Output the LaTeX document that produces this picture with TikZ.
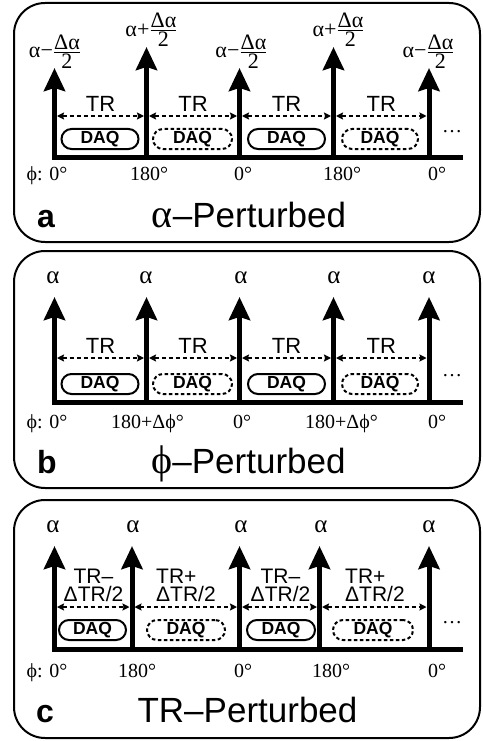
\documentclass[tikz,border=0pt]{standalone}
\usepackage{amsmath}
\usepackage{fontspec}
\setmainfont{Liberation Serif}
\newfontfamily\sansf{Liberation Sans}
\usetikzlibrary{arrows.meta}
\newcommand\myfr[2]{$\genfrac{}{}{0.8pt}{1}{\hbox{#1}}{\hbox{#2}}$}
\newcommand\tsym[1]{{\rmfamily\fontsize{40}{40}\selectfont #1}}
\tikzset{
  frame/.style={line width=2pt, rounded corners=31pt},
  axisline/.style={line width=5pt},
  pulse/.style={line width=5pt, -{Stealth[length=23pt,width=21pt,inset=3pt]}},
  trline/.style={line width=1.6pt, dash pattern=on 4pt off 3pt,
    {Stealth[length=7pt,width=7pt,inset=1pt]}-{Stealth[length=7pt,width=7pt,inset=1pt]}},
  daq/.style={draw, line width=2pt, rounded corners=10pt, minimum height=20pt,
    inner sep=0pt, font=\sansf\bfseries\fontsize{17.5}{17.5}\selectfont},
  daqd/.style={daq, dash pattern=on 3.5pt off 2.5pt},
  flip/.style={font=\fontsize{22}{24}\selectfont, inner sep=0pt},
  alab/.style={font=\fontsize{25}{27}\selectfont, anchor=base, inner sep=0pt},
  serif/.style={font=\fontsize{20}{22}\selectfont, anchor=base, inner sep=0pt},
  sanslbl/.style={font=\sansf\fontsize{22}{23}\selectfont, anchor=base, inner sep=0pt},
  twoline/.style={font=\sansf\fontsize{21}{17.5}\selectfont, inner sep=0pt},
  title/.style={font=\sansf\fontsize{35}{38}\selectfont, anchor=base, inner sep=0pt},
  letter/.style={font=\sansf\bfseries\fontsize{32}{34}\selectfont, anchor=base west, inner sep=0pt},
  dots/.style={font=\fontsize{20}{22}\selectfont, anchor=base, inner sep=0pt},
}
\begin{document}
\begin{tikzpicture}[x=1pt,y=-1pt]
\useasboundingbox (0,0) rectangle (482,741);
% ================= panel a =================
\draw[frame] (14,3) rectangle (480,242);
\coordinate (aL) at (52,157.5);
\coordinate (aR) at (463,157.5);
\draw[axisline] (aL) -- (aR);
\foreach \i/\x/\t in {1/54.5/68, 2/146.5/47, 3/239.5/68, 4/333.5/47, 5/429/68}{
  \coordinate (ab\i) at (\x,157.5);
  \coordinate (at\i) at (\x,\t);
  \draw[pulse] (ab\i) -- (at\i);
}
\node[flip] (fa1) at (55,51.5) {α−\myfr{Δα}{2}};
\node[flip] (fa2) at (151.5,30) {α+\myfr{Δα}{2}};
\node[flip] (fa3) at (241.5,51.5) {α−\myfr{Δα}{2}};
\node[flip] (fa4) at (338.5,30) {α+\myfr{Δα}{2}};
\node[flip] (fa5) at (428.5,51.5) {α−\myfr{Δα}{2}};
\foreach \xa/\xb/\n in {54.5/146.5/1, 146.5/239.5/2, 239.5/333.5/3, 333.5/429/4}{
  \coordinate (atrl\n) at (\xa+2.5,116);
  \coordinate (atrr\n) at (\xb-2.5,116);
  \draw[trline] (atrl\n) -- (atrr\n);
  \node[sanslbl] (atr\n) at ({(\xa+\xb)/2},112) {TR};
}
\node[daq, minimum width=77pt] (aq1) at (100,139) {DAQ};
\node[daqd, minimum width=79pt] (aq2) at (192.5,139) {DAQ};
\node[daq, minimum width=77pt] (aq3) at (286.5,139) {DAQ};
\node[daqd, minimum width=76pt] (aq4) at (380,139) {DAQ};
\node[dots] (adots) at (452,132) {…};
\node[serif] (ap1) at (47,180) {ϕ: 0°};
\node[serif] (ap2) at (149,180) {180°};
\node[serif] (ap3) at (243,180) {0°};
\node[serif] (ap4) at (342,180) {180°};
\node[serif] (ap5) at (437,180) {0°};
\node[letter] (alet) at (37,227) {a};
\node[title] (atitle) at (249,227) {\tsym{α}–Perturbed};
% ================= panel b =================
\draw[frame] (14,251) rectangle (480,488);
\coordinate (bL) at (52,402);
\coordinate (bR) at (463,402);
\draw[axisline] (bL) -- (bR);
\foreach \i/\x in {1/54.5, 2/146.5, 3/239.5, 4/333.5, 5/429}{
  \coordinate (bb\i) at (\x,402);
  \coordinate (bt\i) at (\x,297);
  \draw[pulse] (bb\i) -- (bt\i);
}
\foreach \i/\x in {1/53, 2/146, 3/241, 4/334, 5/429}{
  \node[alab] (ba\i) at (\x,283) {α};
}
\foreach \xa/\xb/\n in {54.5/146.5/1, 146.5/239.5/2, 239.5/333.5/3, 333.5/429/4}{
  \coordinate (btrl\n) at (\xa+2.5,358);
  \coordinate (btrr\n) at (\xb-2.5,358);
  \draw[trline] (btrl\n) -- (btrr\n);
  \node[sanslbl] (btr\n) at ({(\xa+\xb)/2},353) {TR};
}
\node[daq, minimum width=77pt] (bq1) at (100,384) {DAQ};
\node[daqd, minimum width=79pt] (bq2) at (192.5,384) {DAQ};
\node[daq, minimum width=77pt] (bq3) at (286.5,384) {DAQ};
\node[daqd, minimum width=76pt] (bq4) at (380,384) {DAQ};
\node[dots] (bdots) at (452,376) {…};
\node[serif] (bp1) at (47,428) {ϕ: 0°};
\node[serif] (bp2) at (147.5,428) {180+Δϕ°};
\node[serif] (bp3) at (242,428) {0°};
\node[serif] (bp4) at (341.5,428) {180+Δϕ°};
\node[serif] (bp5) at (437,428) {0°};
\node[letter] (blet) at (37,473) {b};
\node[title] (btitle) at (248.5,473) {\tsym{ϕ}–Perturbed};
% ================= panel c =================
\draw[frame] (14,500) rectangle (480,738);
\coordinate (cL) at (52,649.5);
\coordinate (cR) at (463,649.5);
\draw[axisline] (cL) -- (cR);
\foreach \i/\x in {1/54.5, 2/132, 3/239.5, 4/319.5, 5/429}{
  \coordinate (cb\i) at (\x,649.5);
  \coordinate (ct\i) at (\x,546);
  \draw[pulse] (cb\i) -- (ct\i);
}
\foreach \i/\x in {1/53, 2/133, 3/241, 4/321, 5/429}{
  \node[alab] (ca\i) at (\x,532) {α};
}
\foreach \xa/\xb/\n in {54.5/132/1, 132/239.5/2, 239.5/319.5/3, 319.5/429/4}{
  \coordinate (ctrl\n) at (\xa+2.5,607);
  \coordinate (ctrr\n) at (\xb-2.5,607);
  \draw[trline] (ctrl\n) -- (ctrr\n);
}
\node[twoline, align=center, anchor=base] (ctr1) at (93.5,601) {TR–\\ΔTR/2};
\node[twoline, align=left, anchor=base west] (ctr2) at (156,601) {TR+\\ΔTR/2};
\node[twoline, align=center, anchor=base] (ctr3) at (280.5,601) {TR–\\ΔTR/2};
\node[twoline, align=left, anchor=base west] (ctr4) at (345,601) {TR+\\ΔTR/2};
\node[daq, minimum width=67pt] (cq1) at (92.5,630) {DAQ};
\node[daqd, minimum width=78pt] (cq2) at (186,630) {DAQ};
\node[daq, minimum width=68pt] (cq3) at (281,630) {DAQ};
\node[daqd, minimum width=80pt] (cq4) at (373,630) {DAQ};
\node[dots] (cdots) at (452,623) {…};
\node[serif] (cp1) at (47,677) {ϕ: 0°};
\node[serif] (cp2) at (137,677) {180°};
\node[serif] (cp3) at (243,677) {0°};
\node[serif] (cp4) at (331,677) {180°};
\node[serif] (cp5) at (437,677) {0°};
\node[letter] (clet) at (36,722) {c};
\node[title] (ctitle) at (247.5,722) {TR–Perturbed};
\end{tikzpicture}
\end{document}
